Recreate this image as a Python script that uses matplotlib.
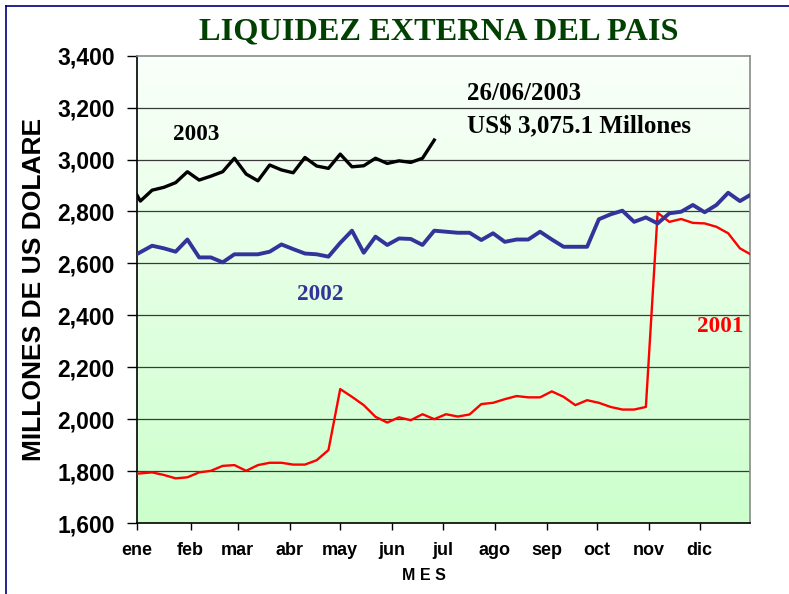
# Liquidez externa del pais: reservas semanales 2001, 2002 y 2003

import matplotlib
matplotlib.use('Agg')
import matplotlib.pyplot as plt
import numpy as np
import pandas as pd
from matplotlib.colors import LinearSegmentedColormap

#### DATOS ####

meses = ['ene', 'feb', 'mar', 'abr', 'may', 'jun', 'jul', 'ago', 'sep', 'oct', 'nov', 'dic']

# fechas de los datos semanales (cierre del año anterior + semanas)
fechas_2001 = ['2000-12-31'] + list(pd.date_range('2001-01-09', '2001-12-25', freq='7D')) + ['2001-12-31']
fechas_2002 = ['2001-12-31'] + list(pd.date_range('2002-01-09', '2002-12-25', freq='7D')) + ['2002-12-31']
fechas_2003 = ['2002-12-31'] + list(pd.date_range('2003-01-02', '2003-06-26', freq='7D'))

# millones de US$
liq_2001 = [1790, 1795, 1785, 1772, 1776, 1795, 1801, 1820, 1823, 1801, 1823, 1832, 1832,
            1825, 1825, 1842, 1881, 2116, 2086, 2054, 2009, 1987, 2007, 1996, 2019, 2000,
            2019, 2010, 2018, 2058, 2063, 2077, 2089, 2084, 2084, 2107, 2086, 2054, 2073,
            2063, 2047, 2037, 2037, 2047, 2795, 2760, 2771, 2756, 2754, 2741, 2716, 2658, 2636]
liq_2002 = [2636, 2668, 2658, 2645, 2692, 2623, 2623, 2604, 2635, 2635, 2635, 2645, 2673,
            2655, 2638, 2635, 2626, 2679, 2726, 2641, 2703, 2671, 2696, 2694, 2671, 2726,
            2722, 2718, 2718, 2690, 2716, 2683, 2692, 2692, 2722, 2692, 2664, 2664, 2664,
            2770, 2789, 2803, 2760, 2777, 2754, 2793, 2799, 2825, 2797, 2825, 2872, 2840, 2863]
liq_2003 = [2863, 2840, 2882, 2893, 2911, 2953, 2921, 2936, 2953, 3005, 2944, 2918, 2979,
            2960, 2949, 3008, 2975, 2966, 3021, 2972, 2976, 3005, 2985, 2995, 2989, 3005, 3075]

yticks = list(range(1600, 3401, 200))


def dias(fechas, anio):
    # dias desde el 31/12 del año anterior
    base = pd.Timestamp(anio - 1, 12, 31)
    return np.array([(pd.Timestamp(f) - base).days for f in fechas])


#### GRAFICO ####

sans = 'Liberation Sans'
serif = 'Liberation Serif'

fig = plt.figure(figsize=(7.89, 5.94), dpi=100)
ax = fig.add_axes([137/789, 1 - 523/594, (750-137)/789, (523-55.7)/594])

# fondo degradado blanco -> verde claro
cmap = LinearSegmentedColormap.from_list('fondo', ['#CCFFCC', '#FAFFFA'])
grad = np.linspace(0, 1, 256).reshape(-1, 1)
ax.imshow(grad, extent=[0, 365, 1600, 3400], origin='lower', aspect='auto', cmap=cmap, zorder=0)

for y in yticks[1:-1]:
    ax.axhline(y, color='#3a3a3a', lw=0.9, zorder=1)

ax.plot(dias(fechas_2001, 2001), liq_2001, color='#FF0000', lw=1.7, zorder=3)
ax.plot(dias(fechas_2002, 2002), liq_2002, color='#333399', lw=2.8, zorder=4)
ax.plot(dias(fechas_2003, 2003), liq_2003, color='black', lw=2.4, zorder=5)

# ticks al inicio de cada mes
inicio_mes = dias([f'2003-{m:02d}-01' for m in range(1, 13)], 2003)
inicio_mes[0] = 0
ax.set_xticks(inicio_mes)
ax.set_xticklabels(meses, fontsize=13, fontweight='bold', family=sans)
ax.set_yticks(yticks)
ax.set_yticklabels([f'{v:,}' for v in yticks], fontsize=16.5, fontweight='bold', family=sans)
ax.tick_params(axis='x', length=5, width=1, pad=9, color='black')
ax.tick_params(axis='y', length=7, width=1, pad=9, color='black')

ax.set_xlim(0, 365)
ax.set_ylim(1600, 3400)

for s in ['top', 'right']:
    ax.spines[s].set_color('#8a8a8a')
    ax.spines[s].set_linewidth(1.2)
for s in ['left', 'bottom']:
    ax.spines[s].set_color('black')
    ax.spines[s].set_linewidth(1.2)

# textos
fig.text(439/789, 1 - 32/594, 'LIQUIDEZ EXTERNA DEL PAIS', ha='center', va='center',
         fontsize=23.3, fontweight='bold', family=serif, color='#004000')
fig.text(34/789, 1 - 289/594, 'MILLONES DE US DOLARE', rotation=90, ha='center', va='center',
         fontsize=19, fontweight='bold', family=sans)
fig.text(424/789, 1 - 576/594, 'M E S', ha='center', va='center',
         fontsize=11.5, fontweight='bold', family=sans)

fig.text(173/789, 1 - 134/594, '2003', ha='left', va='center',
         fontsize=16.7, fontweight='bold', family=serif, color='black')
fig.text(297/789, 1 - 294/594, '2002', ha='left', va='center',
         fontsize=16.7, fontweight='bold', family=serif, color='#333399')
fig.text(697/789, 1 - 327/594, '2001', ha='left', va='center',
         fontsize=16.7, fontweight='bold', family=serif, color='#FF0000')
fig.text(467/789, 1 - 93/594, '26/06/2003', ha='left', va='center',
         fontsize=18, fontweight='bold', family=serif)
fig.text(467/789, 1 - 127/594, 'US$ 3,075.1 Millones', ha='left', va='center',
         fontsize=18, fontweight='bold', family=serif)

# marco de la diapositiva
fig.add_artist(plt.Line2D([6/789, 1], [1 - 6/594, 1 - 6/594], color='#000080', lw=1.2))
fig.add_artist(plt.Line2D([6/789, 6/789], [0, 1 - 6/594], color='#000080', lw=1.2))

plt.savefig('out.png', dpi=100)
